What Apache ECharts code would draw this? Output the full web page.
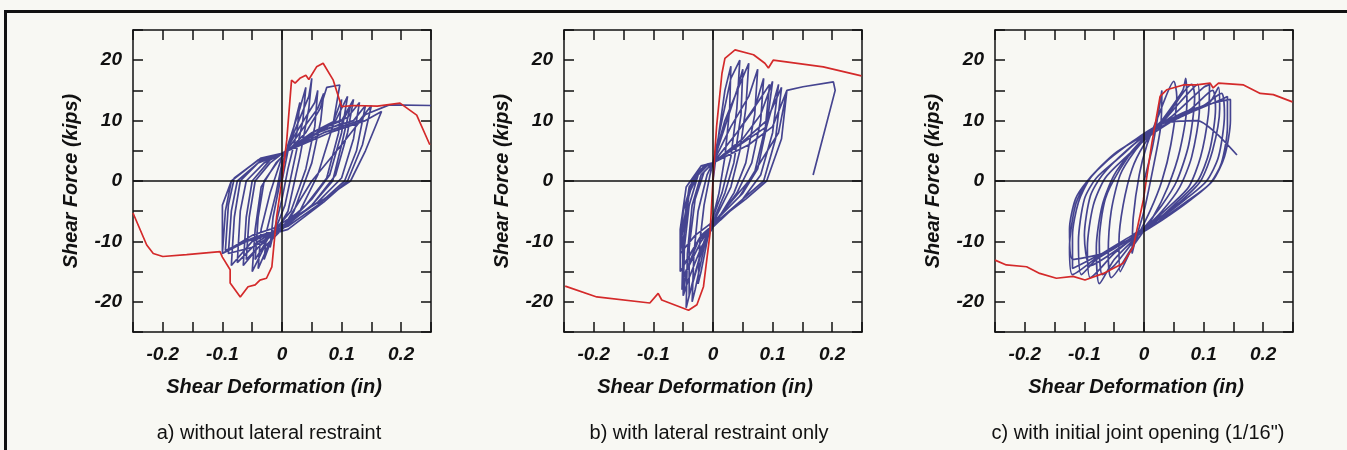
<!DOCTYPE html>
<html>
<head>
<meta charset="utf-8">
<script src="https://cdn.jsdelivr.net/npm/echarts@6/dist/echarts.min.js"></script>
<style>
html,body{margin:0;padding:0;background:#f8f8f3;}
#chart{width:1347px;height:450px;}
</style>
</head>
<body>
<div id="chart"></div>
<script>
// ---- data ----
const captions = ['a) without lateral restraint', 'b) with lateral restraint only', 'c) with initial joint opening (1/16")'];
const xTickLabels = ['-0.2', '-0.1', '0', '0.1', '0.2'];
const yTickLabels = ['-20', '-10', '0', '10', '20'];

// panel a: envelope (red) and hysteresis path (blue)
const redA = [[-0.25,-5.3],[-0.227,-10.6],[-0.216,-12],[-0.2,-12.5],[-0.16,-12.2],[-0.104,-11.7],[-0.1,-12.6],[-0.087,-14.7],[-0.087,-16.9],[-0.07,-19.2],[-0.057,-17.5],[-0.045,-17.2],[-0.037,-16.4],[-0.026,-16.1],[-0.017,-14.2],[-0.009,-5.9],[0,0.2],[0.008,6.8],[0.016,16.7],[0.022,16.2],[0.03,17],[0.04,17.5],[0.045,16.8],[0.058,18.9],[0.069,19.5],[0.086,16.7],[0.1,12.3],[0.12,12.5],[0.16,12.4],[0.198,12.9],[0.226,10.9],[0.248,6]];
const blueA = [[0,0],[0.01,5],[0.02,9],[0.03,13],[0.025,8],[0.01,2],[0,-3],[-0.01,-7],[-0.02,-11],[-0.015,-6],[-0.005,-1],[0,2],
[0.01,6],[0.03,12],[0.04,15.5],[0.035,10],[0.02,3],[0.005,-4],[-0.015,-9],[-0.03,-13],[-0.025,-8],[-0.01,-2],[0,3],
[0.02,8],[0.045,14],[0.05,17],[0.045,12],[0.03,4],[0.01,-5],[-0.02,-10],[-0.04,-14.5],[-0.035,-8],[-0.02,-2],[0,4],
[0.03,9],[0.055,13],[0.06,15],[0.055,9],[0.04,2],[0.015,-5],[-0.02,-9],[-0.045,-13],[-0.04,-6],[-0.03,0],[-0.005,3.5],[0,4],
[0.03,8],[0.06,12],[0.07,14.5],[0.065,10],[0.05,3],[0.02,-5],[0,-8],[-0.03,-11],[-0.05,-15],[-0.045,-8],[-0.035,-1],[-0.01,3],[0,4],
[0.04,8],[0.064,12],[0.075,15.5],[0.097,15.9],[0.085,9],[0.06,1],[0.03,-5],[0,-7],[-0.03,-10],[-0.06,-13],[-0.055,-6],[-0.045,0],[-0.02,3],[0,4.5],
[0.05,7.5],[0.085,9.5],[0.1,13.5],[0.095,8],[0.075,0.5],[0.04,-4],[0,-7.5],[-0.04,-11],[-0.065,-14],[-0.06,-6],[-0.05,0],[-0.02,3.5],[0,4.5],
[0.05,8],[0.09,10],[0.11,14],[0.1,8],[0.08,1],[0.05,-3],[0.01,-7],[-0.04,-10],[-0.075,-13.5],[-0.07,-5],[-0.06,0],[-0.03,3],[0,4.5],
[0.06,8],[0.1,9.5],[0.115,12.5],[0.1,6],[0.085,0],[0.05,-4],[0.005,-7.5],[-0.05,-10],[-0.085,-14],[-0.08,-6],[-0.07,0],[-0.035,3.5],[0,4.5],
[0.05,8],[0.1,10],[0.12,13.5],[0.11,8],[0.09,1],[0.05,-4],[0,-8],[-0.05,-11],[-0.09,-12],[-0.085,-5],[-0.075,0],[-0.04,3],[0,4.5],
[0.06,8.5],[0.11,10.5],[0.13,13],[0.12,7],[0.1,0.5],[0.06,-3.5],[0.01,-7],[-0.05,-9],[-0.1,-12],[-0.095,-5],[-0.085,0],[-0.04,3.5],[0,4.6],
[0.07,8.5],[0.12,10],[0.14,12.5],[0.125,5],[0.105,0],[0.06,-4],[0.01,-7.5],[-0.05,-9.5],[-0.095,-11.5],[-0.09,-4],[-0.08,0.5],[-0.035,3.8],[0,4.6],
[0.07,8],[0.13,10],[0.15,12.5],[0.135,6],[0.11,0],[0.07,-3.5],[0.01,-8],[-0.06,-10],[-0.1,-12],[-0.1,-4],[-0.085,0],[-0.04,3.5],[0,4.6],
[0.08,8],[0.14,10],[0.167,11.5],[0.14,5],[0.115,0],[0.07,-3],[0.02,-6],[0,-8],
[0.05,0],[0.1,6],[0.14,11],[0.18,12.6],[0.25,12.5]];

// panel b
const redB = [[-0.248,-17.4],[-0.195,-19.2],[-0.106,-20.2],[-0.092,-18.6],[-0.086,-19.7],[-0.041,-21.4],[-0.027,-20.5],[-0.016,-17.5],[-0.005,-8.7],[0,0.2],[0.006,9],[0.015,17.8],[0.02,20.3],[0.037,21.7],[0.068,20.9],[0.087,19.5],[0.093,18.7],[0.101,20],[0.185,18.9],[0.249,17.4]];
const blueB = [[0,0],[0.01,8],[0.02,15],[0.03,19],[0.028,12],[0.02,4],[0.01,-2],[0,-6],[-0.01,-10],[-0.02,-15],[-0.025,-17],[-0.022,-10],[-0.015,-4],[-0.005,1],[0,3],
[0.015,10],[0.03,17],[0.045,20],[0.04,12],[0.03,4],[0.015,-2],[0,-6],[-0.015,-11],[-0.03,-18],[-0.035,-20],[-0.032,-12],[-0.025,-5],[-0.01,1],[0,3],
[0.02,9],[0.04,15],[0.05,18.5],[0.047,11],[0.035,3],[0.02,-2],[0.005,-5.5],[-0.02,-12],[-0.04,-19],[-0.04,-11],[-0.03,-3],[-0.015,1.5],[0,3],
[0.02,10],[0.045,16],[0.06,19.5],[0.055,12],[0.045,5],[0.03,-1],[0.01,-5],[-0.015,-10],[-0.035,-17],[-0.045,-21],[-0.043,-12],[-0.035,-4],[-0.02,1],[0,3],
[0.03,9],[0.06,14],[0.075,18.5],[0.07,11],[0.055,3],[0.035,-2],[0.01,-6],[-0.02,-11],[-0.04,-16],[-0.05,-19],[-0.048,-11],[-0.04,-4],[-0.025,1],[-0.01,2.5],[0,3],
[0.04,8],[0.07,12],[0.085,17],[0.08,10],[0.065,3],[0.04,-2],[0.01,-6],[-0.02,-10],[-0.045,-15],[-0.05,-19],[-0.05,-11],[-0.045,-4],[-0.03,1],[-0.01,2.8],[0,3],
[0.04,8],[0.075,13],[0.095,16],[0.088,9],[0.07,1.5],[0.045,-2.5],[0.01,-6],[-0.025,-10],[-0.05,-16],[-0.052,-9],[-0.04,-1],[-0.02,2],[0,3],
[0.05,7],[0.08,11],[0.1,16.5],[0.09,9],[0.075,2],[0.05,-2],[0.01,-6],[-0.03,-9],[-0.055,-12],[-0.05,-5],[-0.035,0],[-0.015,2.5],[0,3],
[0.05,6.5],[0.09,10],[0.115,15.5],[0.105,7],[0.085,0],[0.05,-3],[0.012,-6.5],[-0.025,-10],[-0.055,-15],[-0.055,-8],[-0.045,-1],[-0.02,2.5],[0,3],
[0.06,7],[0.09,9],[0.11,16],[0.1,8],[0.08,1],[0.05,-3],[0.015,-6],[-0.02,-9],[-0.05,-14],[-0.052,-18],[-0.05,-10],[-0.04,-2],[-0.02,2],[0,3],
[0.06,6],[0.1,9],[0.124,15],[0.115,7],[0.09,0],[0.055,-3],[0.015,-6],[0,-7],
[0.06,0],[0.11,8],[0.124,15],[0.151,15.6],[0.202,16.4],[0.205,15],[0.168,1]];

// panel c
const redC = [[-0.25,-13.1],[-0.231,-13.9],[-0.197,-14.2],[-0.175,-15.3],[-0.147,-16.1],[-0.119,-15.8],[-0.099,-16.4],[-0.068,-15.3],[-0.035,-13.6],[-0.018,-10.9],[-0.001,-3.1],[0.013,6.2],[0.027,14],[0.038,15.1],[0.066,15.9],[0.088,15.9],[0.111,16.2],[0.116,15.4],[0.125,16.2],[0.167,15.9],[0.195,14.5],[0.217,14.3],[0.249,13.1]];
const blueC = [[0,0],[0.015,6],[0.03,15],[0.028,9],[0.015,2],[0,-5],[-0.015,-10],[-0.02,-12],[-0.018,-6],[-0.008,1],[0.005,6],
[0.025,11],[0.05,16.5],[0.055,14],[0.045,6],[0.03,0],[0.01,-5],[-0.02,-11],[-0.04,-15],[-0.042,-10],[-0.035,-4],[-0.02,2],[0,6],
[0.03,10],[0.065,15],[0.07,17],[0.072,13],[0.06,5],[0.04,-1],[0.015,-6],[-0.02,-11],[-0.055,-16],[-0.06,-12],[-0.055,-5],[-0.04,1],[-0.015,5],[0.02,9],
[0.04,11],[0.08,16],[0.085,14],[0.075,6],[0.055,0],[0.03,-4],[-0.01,-9],[-0.05,-14],[-0.07,-15.5],[-0.075,-10],[-0.065,-3],[-0.04,2],[-0.01,6],[0.02,8.5],
[0.06,13],[0.09,16],[0.093,12],[0.08,4],[0.06,-1],[0.03,-5],[-0.01,-9],[-0.05,-13],[-0.075,-17],[-0.08,-11],[-0.07,-4],[-0.05,1],[-0.02,5],[0.01,8],
[0.05,11],[0.1,15.5],[0.11,16],[0.108,11],[0.095,4],[0.075,-1],[0.045,-4],[0,-8],[-0.05,-12],[-0.09,-16],[-0.095,-11],[-0.085,-4],[-0.065,0.5],[-0.03,4],[0.01,7.5],
[0.08,12],[0.115,15],[0.12,12],[0.11,5],[0.09,0],[0.05,-4],[0.01,-7.5],[-0.04,-11],[-0.09,-14],[-0.1,-9],[-0.09,-2.5],[-0.07,1],[-0.03,5],[0.01,8],
[0.06,10.5],[0.11,13],[0.125,15.5],[0.127,12],[0.115,5],[0.095,0],[0.06,-3.5],[0.02,-6.5],[-0.03,-10],[-0.08,-13],[-0.105,-15.5],[-0.11,-10],[-0.1,-3],[-0.08,0.5],[-0.04,4],[0,7.5],
[0.05,10.5],[0.1,12.5],[0.13,14.5],[0.135,11],[0.125,4],[0.105,0],[0.07,-3],[0.03,-6],[-0.02,-9],[-0.07,-12],[-0.12,-15.5],[-0.125,-11],[-0.115,-4],[-0.095,0],[-0.06,3.5],[-0.02,6.5],[0.02,9],
[0.07,11],[0.13,13.5],[0.14,14],[0.14,9],[0.13,3],[0.11,-0.5],[0.07,-3.5],[0.02,-7],[-0.04,-10.5],[-0.09,-13],[-0.12,-14.5],[-0.12,-9],[-0.11,-3.5],[-0.09,0.5],[-0.05,4.5],[-0.01,7],[0.04,10],
[0.07,11.5],[0.12,13],[0.145,13.5],[0.145,10],[0.135,4],[0.115,0],[0.08,-3],[0.03,-6.5],[-0.02,-9.5],[-0.07,-12],[-0.12,-13],[-0.125,-8],[-0.115,-3],[-0.095,0],[-0.06,3.5],[-0.02,6.5],[0.03,9.5],
[0.09,10],[0.12,8],[0.156,4.3]];

// ---- chart ----
const FONT = "'Liberation Sans', Arial, Helvetica, sans-serif";
const gridLefts = [133, 564, 995];
const blues = [blueA, blueB, blueC];
const reds = [redA, redB, redC];
const smooths = [false, false, 0.25];

const chart = echarts.init(document.getElementById('chart'), null, {renderer: 'canvas'});
const grids = [], xAxes = [], yAxes = [], series = [], graphics = [];

const tickStyle = {show: true, inside: true, length: 10, lineStyle: {color: '#111', width: 1.5}};
const lineStyle = {show: true, onZero: false, lineStyle: {color: '#111', width: 1.5}};
const labelFont = {color: '#111', fontSize: 19, fontWeight: 'bold', fontStyle: 'italic', fontFamily: FONT};
const nameFont = {color: '#111', fontSize: 20, fontWeight: 'bold', fontStyle: 'italic', fontFamily: FONT};

gridLefts.forEach((left, i) => {
  grids.push({left: left, top: 30, width: 298, height: 302, containLabel: false, show: false});
  xAxes.push({
    gridIndex: i, type: 'value', position: 'bottom', min: -0.25, max: 0.25, interval: 0.05,
    axisLine: lineStyle, axisTick: tickStyle, splitLine: {show: false},
    axisLabel: Object.assign({
      margin: 13,
      formatter: v => { const k = Math.round(v * 100); if (k % 10 !== 0) return ''; return xTickLabels[k / 10 + 2]; }
    }, labelFont),
    name: 'Shear Deformation (in)', nameLocation: 'middle', nameGap: 45,
    nameTextStyle: Object.assign({padding: [0, 16, 0, 0]}, nameFont)
  });
  xAxes.push({
    gridIndex: i, type: 'value', position: 'top', min: -0.25, max: 0.25, interval: 0.05,
    axisLine: lineStyle, axisTick: tickStyle, splitLine: {show: false}, axisLabel: {show: false}
  });
  yAxes.push({
    gridIndex: i, type: 'value', position: 'left', min: -25, max: 25, interval: 5,
    axisLine: lineStyle, axisTick: tickStyle, splitLine: {show: false},
    axisLabel: Object.assign({
      margin: 11,
      formatter: v => { const k = Math.round(v); if (k % 10 !== 0) return ''; return yTickLabels[k / 10 + 2]; }
    }, labelFont),
    name: 'Shear Force (kips)', nameLocation: 'middle', nameGap: 52, nameRotate: 90,
    nameTextStyle: nameFont
  });
  yAxes.push({
    gridIndex: i, type: 'value', position: 'right', min: -25, max: 25, interval: 5,
    axisLine: lineStyle, axisTick: tickStyle, splitLine: {show: false}, axisLabel: {show: false}
  });
  series.push({
    type: 'line', xAxisIndex: i * 2, yAxisIndex: i * 2, data: blues[i], showSymbol: false, symbol: 'none',
    smooth: smooths[i], lineStyle: {color: '#3b3a8a', width: 1.7, opacity: 0.95}, z: 2, silent: true,
    markLine: {
      silent: true, symbol: 'none', label: {show: false},
      lineStyle: {color: '#111', width: 1.5, type: 'solid'},
      data: [{xAxis: 0}, {yAxis: 0}]
    }
  });
  series.push({
    type: 'line', xAxisIndex: i * 2, yAxisIndex: i * 2, data: reds[i], showSymbol: false, symbol: 'none',
    lineStyle: {color: '#d42a2a', width: 1.7}, z: 3, silent: true
  });
});

const capCenters = [269, 709, 1138];
captions.forEach((c, i) => {
  graphics.push({type: 'text', x: capCenters[i], y: 433,
    style: {text: c, font: "20px " + FONT, fill: '#111', textAlign: 'center', textVerticalAlign: 'middle'}});
});
// page frame lines of the scanned figure
graphics.push({type: 'rect', shape: {x: 5, y: 10, width: 1342, height: 3}, style: {fill: '#111'}});
graphics.push({type: 'rect', shape: {x: 4, y: 10, width: 3, height: 440}, style: {fill: '#111'}});

chart.setOption({
  backgroundColor: '#f8f8f3',
  animation: false,
  grid: grids, xAxis: xAxes, yAxis: yAxes, series: series, graphic: graphics
});
</script>
</body>
</html>
